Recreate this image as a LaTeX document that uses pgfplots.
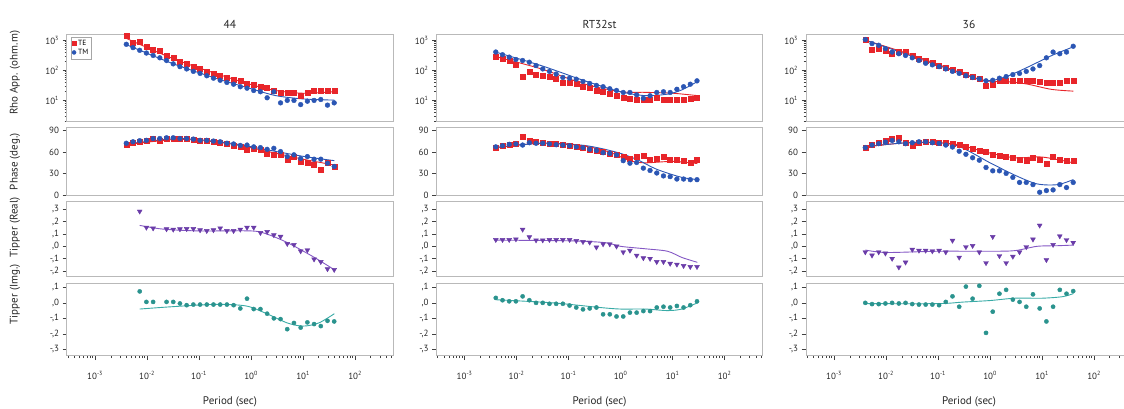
\documentclass[border=0pt]{standalone}
\usepackage{fontspec}
\setmainfont{PT Sans}
\usepackage{pgfplots}
\usepackage{pgfplotstable}
\pgfplotsset{compat=1.18}
\definecolor{teR}{HTML}{E8252A}
\definecolor{tmB}{HTML}{2B56B4}
\definecolor{purp}{HTML}{6A3CA8}
\definecolor{purpL}{HTML}{8458C4}
\definecolor{tealM}{HTML}{2A938E}
\definecolor{tealL}{HTML}{38ABA6}

% rTE, rTM: log10 of apparent resistivity (ohm.m); pTE, pTM: phase (deg); tr, ti: tipper
\pgfplotstableread{
T rTE rTM pTE pTM tr ti
0.00398 3.146 2.863 70.5 72 nan nan
0.00536 2.908 2.752 72.7 74 nan nan
0.00721 2.944 2.663 74 75.5 0.284 0.074
0.00970 2.775 2.571 76 76 0.153 0.006
0.01306 2.684 2.491 78.6 78.5 0.147 0.006
0.01758 2.661 2.412 75 78.5 nan nan
0.02366 2.491 2.322 78.6 79.5 0.140 0.006
0.03184 2.412 2.210 78.6 79.5 0.137 0.006
0.04285 2.288 2.117 78.6 78.5 0.140 -0.004
0.05768 2.210 2.041 77.7 78.5 0.142 -0.015
0.07762 2.130 1.959 77 77.7 0.142 -0.011
0.1045 2.041 1.892 76 76 0.132 -0.011
0.1406 1.959 1.813 75 76 0.126 -0.011
0.1892 1.892 1.732 74 75 0.132 -0.011
0.2547 1.813 1.663 72.7 74 0.147 -0.011
0.3428 1.732 1.591 71 72 0.126 -0.011
0.4613 1.690 1.531 68.6 71 0.126 -0.015
0.6209 1.643 1.447 67 69 0.137 -0.036
0.8356 1.556 1.398 63.6 69.5 0.153 0.027
1.125 1.531 1.322 65 67 0.153 -0.040
1.514 1.447 1.279 63.6 66 0.110 -0.040
2.037 1.398 1.079 58 63.6 0.118 -0.070
2.742 1.301 1.279 56 65 0.092 -0.100
3.690 1.255 0.908 56 60.5 0.079 -0.105
4.966 1.255 0.991 49 53.6 0.021 -0.170
6.683 1.255 0.991 53.6 56 0.013 -0.130
8.995 1.146 0.851 47 51 -0.039 -0.160
12.11 1.255 0.964 44.5 53.6 -0.031 -0.126
16.29 1.301 0.991 42 50 -0.105 -0.137
21.93 1.301 1.021 36 50 -0.126 -0.150
29.51 1.301 0.833 44.5 44.5 -0.184 -0.116
39.72 1.322 0.908 40 40 -0.190 -0.120
}\colA

\pgfplotstableread{
T rTE rTM pTE pTM tr ti
0.00398 2.458 2.605 66 67 0.053 0.032
0.00536 2.380 2.515 68 68.6 0.053 0.017
0.00721 2.322 2.435 70.5 70.5 0.053 0.010
0.00970 2.188 2.356 72 71 0.058 0.010
0.01306 1.778 2.322 81 69.5 0.137 0.042
0.01758 1.959 2.265 76 72.7 0.076 0.017
0.02366 1.845 2.152 74 72 0.050 0
0.03184 1.813 2.041 72.7 72 0.050 0
0.04285 1.778 1.959 72 71 0.053 -0.006
0.05768 1.699 1.869 71 70 0.053 -0.006
0.07762 1.591 1.756 69.5 69.5 0.053 -0.006
0.1045 1.591 1.732 68.6 68.6 0.053 -0.017
0.1406 1.556 1.699 67 67 0.045 -0.030
0.1892 1.447 1.623 66 66 0.037 -0.042
0.2547 1.398 1.556 62.7 63.6 0.032 -0.036
0.3428 1.322 1.491 62 62 -0.008 -0.030
0.4613 1.279 1.447 60.5 59 0.018 -0.074
0.6209 1.204 1.380 58 58 0.018 -0.074
0.8356 1.146 1.322 56 56 0 -0.088
1.125 1.079 1.255 53.6 48 -0.047 -0.088
1.514 1.057 1.255 51 44.5 -0.034 -0.063
2.037 1.025 1.176 53.6 45.5 -0.074 -0.063
2.742 1.000 1.061 54.5 37.7 -0.095 -0.053
3.690 1.025 1.146 49 34.5 -0.100 -0.053
4.966 1.079 1.255 51 31 -0.126 -0.030
6.683 1.000 1.279 53.6 27 -0.126 -0.025
8.995 1.025 1.255 50 26 -0.140 -0.030
12.11 1.025 1.362 49 22.7 -0.147 -0.020
16.29 1.025 1.447 48 22.7 -0.158 -0.030
21.93 1.057 1.531 45.5 21.8 -0.166 -0.015
29.51 1.079 1.643 49 21.8 -0.166 0.010
}\colB

\pgfplotstableread{
T rTE rTM pTE pTM tr ti
0.00398 3.021 3.021 66 66 -0.047 0
0.00536 2.684 2.887 70.5 69.5 -0.073 -0.008
0.00721 2.718 2.831 72.7 71.4 -0.047 -0.008
0.00970 2.638 2.718 76 73.6 -0.057 -0.004
0.01306 2.548 2.604 78 75.9 -0.100 0
0.01758 2.604 2.548 79.5 74 -0.170 -0.004
0.02366 2.604 2.491 72.7 71.4 -0.130 0
0.03184 2.491 2.412 68 72.7 -0.026 -0.008
0.04285 2.380 2.322 72.7 74 -0.034 -0.011
0.05768 2.301 2.230 73.6 74 -0.034 -0.011
0.07762 2.265 2.176 73.6 72.7 -0.039 -0.011
0.1045 2.152 2.117 72.7 71.8 -0.034 -0.015
0.1406 2.097 2.041 72.7 69.5 -0.047 0.006
0.1892 2.013 1.959 71.4 66.8 0.047 0.042
0.2547 1.944 1.892 69.5 61 -0.090 -0.025
0.3428 1.851 1.813 66.8 56.8 -0.005 0.105
0.4613 1.785 1.756 65 52 0.005 0.027
0.6209 1.708 1.708 62 48.6 -0.047 0.110
0.8356 1.491 1.643 60.5 38.6 -0.135 -0.194
1.125 1.531 1.663 56 34 0.078 -0.057
1.514 1.663 1.732 54.5 34 -0.078 0.059
2.037 1.663 1.785 53 30.5 -0.135 0.084
2.742 1.663 1.851 52 25 -0.083 0.021
3.690 1.663 1.892 50 18 -0.047 0.006
4.966 1.643 1.959 48.6 18 -0.005 -0.025
6.683 1.643 2.041 52 15 0.057 0.055
8.995 1.623 2.152 50 4.5 0.170 -0.036
12.11 1.591 2.412 44 6.8 -0.110 -0.120
16.29 1.591 2.604 53 7.7 0.013 -0.025
21.93 1.591 2.548 50 15 0.083 0.084
29.51 1.643 2.604 48.6 11 0.052 0.059
39.72 1.643 2.797 48.6 18 0.030 0.076
}\colC

\pgfplotsset{
  every axis/.append style={/pgfplots/scale only axis, /pgfplots/width=326pt,
    /pgfplots/xmode=log, /pgfplots/xmin=0.000288, /pgfplots/xmax=537,
    /pgfplots/axis line style={draw=gray!55, line width=1pt},
    /pgfplots/tick style={draw=gray!50!black, line width=0.5pt},
    /pgfplots/tick align=outside, /pgfplots/ytick pos=left, /pgfplots/xtick pos=bottom,
    /pgfplots/major tick length=4.5pt, /pgfplots/minor tick length=2.5pt,
    /pgfplots/ticklabel style={font=\fontsize{9}{10}\selectfont, text=black!85},
    /pgfplots/label style={font=\fontsize{11}{12}\selectfont, text=black!85},
    /pgfplots/title style={font=\fontsize{11.5}{12}\selectfont, text=black!85, yshift=-3.5pt}},
  RowRho/.style={/pgfplots/xmajorticks=false, /pgfplots/xminorticks=false,
    /pgfplots/height=87.2pt, /pgfplots/ymin=0.28, /pgfplots/ymax=3.19,
    /pgfplots/ytick={1,2,3},
    /pgfplots/yticklabels={10\textsuperscript{1},10\textsuperscript{2},10\textsuperscript{3}},
    /pgfplots/minor ytick={0.301,0.477,0.602,0.699,0.778,0.845,0.903,0.954,1.301,1.477,1.602,1.699,1.778,1.845,1.903,1.954,2.301,2.477,2.602,2.699,2.778,2.845,2.903,2.954}},
  RowPha/.style={/pgfplots/xmajorticks=false, /pgfplots/xminorticks=false,
    /pgfplots/height=67.5pt, /pgfplots/ymin=0, /pgfplots/ymax=93,
    /pgfplots/ytick={0,30,60,90}, /pgfplots/yticklabels={0,30,60,90}},
  RowTre/.style={/pgfplots/xmajorticks=false, /pgfplots/xminorticks=false,
    /pgfplots/height=74.5pt, /pgfplots/ymin=-0.245, /pgfplots/ymax=0.36,
    /pgfplots/ytick={-0.2,-0.1,0,0.1,0.2,0.3},
    /pgfplots/yticklabels={{-,2},{-,1},{,0},{,1},{,2},{,3}}},
  RowTim/.style={/pgfplots/height=72pt, /pgfplots/ymin=-0.34, /pgfplots/ymax=0.125,
    /pgfplots/ytick={-0.3,-0.2,-0.1,0,0.1},
    /pgfplots/yticklabels={{-,3},{-,2},{-,1},{,0},{,1}},
    /pgfplots/xtick={0.001,0.01,0.1,1,10,100},
    /pgfplots/xticklabels={10\textsuperscript{-3},10\textsuperscript{-2},10\textsuperscript{-1},10\textsuperscript{0},10\textsuperscript{1},10\textsuperscript{2}},
    /pgfplots/minor xtick={0.0003,0.0004,0.0005,0.0006,0.0007,0.0008,0.0009,0.002,0.003,0.004,0.005,0.006,0.007,0.008,0.009,0.02,0.03,0.04,0.05,0.06,0.07,0.08,0.09,0.2,0.3,0.4,0.5,0.6,0.7,0.8,0.9,2,3,4,5,6,7,8,9,20,30,40,50,60,70,80,90,200,300,400,500},
    /pgfplots/xticklabel style={yshift=-8pt},
    /pgfplots/xlabel={Period (sec)},
    /pgfplots/xlabel style={at={(axis description cs:0.5,-0.64)}, anchor=center}},
  YLabAt/.style={/pgfplots/ylabel style={at={(axis description cs:-0.16,#1)}, anchor=center}},
}
\tikzset{
  PtTE/.style={only marks, mark=square*, mark size=2.5pt, color=teR},
  PtTM/.style={only marks, mark=*, mark size=2.4pt, color=tmB},
  LnTE/.style={no marks, smooth, color=teR, line width=0.9pt},
  LnTM/.style={no marks, smooth, color=tmB, line width=0.9pt},
  PtTR/.style={only marks, mark=triangle*, mark options={rotate=180}, mark size=2.8pt, color=purp},
  LnTR/.style={no marks, smooth, color=purpL, line width=0.9pt},
  PtTI/.style={only marks, mark=*, mark size=2.1pt, color=tealM},
  LnTI/.style={no marks, smooth, color=tealL, line width=0.9pt},
}

\begin{document}
\begin{tikzpicture}
\useasboundingbox (0,0) rectangle (1124pt,409pt);

% ================= Column 1: 44 =================
\begin{axis}[RowRho, at={(67pt,374.5pt)}, anchor=north west, title={44},
  ylabel={Rho App. (ohm.m)}, YLabAt=0.56,
  legend style={at={(0.012,0.97)}, anchor=north west, font=\fontsize{7.5}{8}\selectfont,
    draw=gray!70, inner sep=1pt, row sep=-2pt, cells={anchor=west}},
  legend image post style={mark size=2pt}]
\addplot[LnTE, forget plot] coordinates {(0.004,3.06) (0.03,2.40) (0.2,1.90) (1,1.52) (3,1.32) (10,1.23) (40,1.28)};
\addplot[LnTM, forget plot] coordinates {(0.004,2.85) (0.03,2.23) (0.2,1.74) (1,1.38) (3,1.15) (10,1.04) (40,1.0)};
\addplot[PtTE] table[x=T,y=rTE] {\colA};
\addplot[PtTM] table[x=T,y=rTM] {\colA};
\legend{TE,TM}
\end{axis}

\begin{axis}[RowPha, at={(67pt,281pt)}, anchor=north west, ylabel={Phase (deg.)}, YLabAt=0.5]
\addplot[LnTE] coordinates {(0.004,70) (0.03,77) (0.1,76) (0.5,70) (2,61) (10,50) (40,42)};
\addplot[LnTM] coordinates {(0.004,71) (0.03,78) (0.1,77) (0.5,71) (2,63) (10,54) (40,48)};
\addplot[PtTE] table[x=T,y=pTE] {\colA};
\addplot[PtTM] table[x=T,y=pTM] {\colA};
\end{axis}

\begin{axis}[RowTre, at={(67pt,207pt)}, anchor=north west, ylabel={Tipper (Real)}, YLabAt=0.66]
\addplot[LnTR] coordinates {(0.0072,0.17) (0.02,0.14) (0.1,0.125) (1,0.125) (2,0.10) (5,0.03) (15,-0.08) (40,-0.19)};
\addplot[PtTR] table[x=T,y=tr] {\colA};
\end{axis}

\begin{axis}[RowTim, at={(67pt,125.5pt)}, anchor=north west, ylabel={Tipper (Img.)}, YLabAt=0.85]
\addplot[LnTI] coordinates {(0.0072,-0.04) (0.03,-0.025) (0.2,-0.01) (0.8,-0.02) (2,-0.07) (5,-0.13) (10,-0.15) (20,-0.13) (40,-0.07)};
\addplot[PtTI] table[x=T,y=ti] {\colA};
\end{axis}

% ================= Column 2: RT32st =================
\begin{axis}[RowRho, at={(436.5pt,374.5pt)}, anchor=north west, title={RT32st}]
\addplot[LnTE] coordinates {(0.004,2.45) (0.03,2.04) (0.2,1.54) (1,1.28) (3,1.26) (10,1.23) (30,1.15)};
\addplot[LnTM] coordinates {(0.004,2.60) (0.03,2.15) (0.2,1.65) (1,1.28) (3,1.15) (8,1.20) (15,1.34) (30,1.62)};
\addplot[PtTE] table[x=T,y=rTE] {\colB};
\addplot[PtTM] table[x=T,y=rTM] {\colB};
\end{axis}

\begin{axis}[RowPha, at={(436.5pt,281pt)}, anchor=north west]
\addplot[LnTE] coordinates {(0.004,66) (0.03,72) (0.2,68) (0.6,60) (1.5,48) (3,45) (10,47) (30,44)};
\addplot[LnTM] coordinates {(0.004,66) (0.03,72) (0.2,69) (0.8,60) (2,50) (5,36) (15,25) (30,22)};
\addplot[PtTE] table[x=T,y=pTE] {\colB};
\addplot[PtTM] table[x=T,y=pTM] {\colB};
\end{axis}

\begin{axis}[RowTre, at={(436.5pt,207pt)}, anchor=north west]
\addplot[LnTR] coordinates {(0.004,0.05) (0.1,0.045) (0.5,0.03) (1,0.0) (3,-0.02) (8,-0.04) (15,-0.09) (30,-0.13)};
\addplot[PtTR] table[x=T,y=tr] {\colB};
\end{axis}

\begin{axis}[RowTim, at={(436.5pt,125.5pt)}, anchor=north west]
\addplot[LnTI] coordinates {(0.004,0.02) (0.05,0.0) (0.4,-0.03) (1,-0.04) (3,-0.04) (8,-0.05) (15,-0.04) (30,0.0)};
\addplot[PtTI] table[x=T,y=ti] {\colB};
\end{axis}

% ================= Column 3: 36 =================
\begin{axis}[RowRho, at={(806pt,374.5pt)}, anchor=north west, title={36}]
\addplot[LnTE] coordinates {(0.004,3.0) (0.03,2.52) (0.2,2.0) (0.8,1.65) (2,1.62) (5,1.54) (15,1.36) (40,1.30)};
\addplot[LnTM] coordinates {(0.004,3.0) (0.03,2.48) (0.2,1.98) (0.8,1.65) (2,1.78) (5,2.08) (15,2.48) (40,2.78)};
\addplot[PtTE] table[x=T,y=rTE] {\colC};
\addplot[PtTM] table[x=T,y=rTM] {\colC};
\end{axis}

\begin{axis}[RowPha, at={(806pt,281pt)}, anchor=north west]
\addplot[LnTE] coordinates {(0.004,67) (0.03,73) (0.2,71) (0.8,60) (3,52) (10,53) (40,45)};
\addplot[LnTM] coordinates {(0.004,67) (0.03,73) (0.2,70) (1,45) (3,28) (8,16) (20,15) (40,22)};
\addplot[PtTE] table[x=T,y=pTE] {\colC};
\addplot[PtTM] table[x=T,y=pTM] {\colC};
\end{axis}

\begin{axis}[RowTre, at={(806pt,207pt)}, anchor=north west]
\addplot[LnTR] coordinates {(0.004,-0.03) (0.01,-0.05) (0.1,-0.04) (1,-0.04) (3,-0.035) (8,0.0) (20,0.005) (40,0.01)};
\addplot[PtTR] table[x=T,y=tr] {\colC};
\end{axis}

\begin{axis}[RowTim, at={(806pt,125.5pt)}, anchor=north west]
\addplot[LnTI] coordinates {(0.004,-0.005) (0.1,-0.005) (0.3,0.005) (1,0.015) (3,0.03) (10,0.03) (25,0.04) (40,0.06)};
\addplot[PtTI] table[x=T,y=ti] {\colC};
\end{axis}
\end{tikzpicture}
\end{document}
